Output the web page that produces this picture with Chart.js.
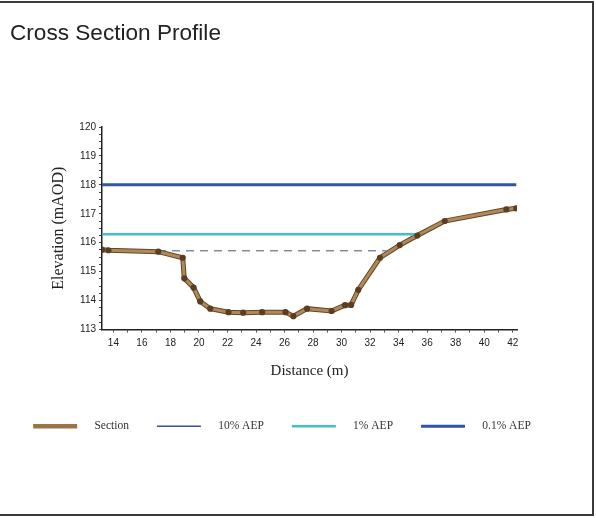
<!DOCTYPE html>
<html>
<head>
<meta charset="utf-8">
<script src="https://cdn.jsdelivr.net/npm/chart.js@4/dist/chart.umd.min.js"></script>
<style>
  html, body { margin: 0; padding: 0; background: #fff; }
  #wrap { position: relative; width: 596px; height: 518px; }
  #frame { position: absolute; left: 0; top: 1px; width: 594px; height: 515px;
           border-top: 2px solid #3a3a3a; border-right: 2px solid #3a3a3a; border-bottom: 2px solid #3a3a3a;
           box-sizing: border-box; pointer-events: none; }
  #title { position: absolute; left: 10px; top: 20px; font: 22.6px "Liberation Sans", Arial, sans-serif; color: #222; }
  canvas { position: absolute; left: 0; top: 0; }
</style>
</head>
<body>
<div id="wrap">
  <canvas id="c" width="596" height="518"></canvas>
  <div id="title">Cross Section Profile</div>
  <div id="frame"></div>
</div>
<script>
// Surveyed cross section: chainage (m) and bed elevation (mAOD)
const distance = [13.2, 13.65, 17.15, 18.86, 18.97, 19.62, 20.09, 20.79, 22.07, 23.1, 24.43, 26.07, 26.62, 27.58, 29.3, 30.24, 30.67, 31.17, 32.69, 34.08, 35.31, 37.23, 41.55, 42.25];
const elevation = [115.76, 115.74, 115.69, 115.48, 114.77, 114.45, 113.97, 113.72, 113.6, 113.58, 113.6, 113.6, 113.46, 113.72, 113.64, 113.84, 113.85, 114.37, 115.48, 115.92, 116.25, 116.75, 117.15, 117.19];

// Flood levels for each annual exceedance probability
const aepNames = ['10% AEP', '1% AEP', '0.1% AEP'];
const aepLevels = [115.72, 116.29, 118.0];
const aepStart = [13.2, 13.2, 13.2];
const aepEnd = [33.15, 35.3, 42.25];

// Axis ticks
const xTicks = [14, 15, 16, 17, 18, 19, 20, 21, 22, 23, 24, 25, 26, 27, 28, 29, 30, 31, 32, 33, 34, 35, 36, 37, 38, 39, 40, 41, 42];
const yTicks = [113, 113.25, 113.5, 113.75, 114, 114.25, 114.5, 114.75, 115, 115.25, 115.5, 115.75, 116, 116.25, 116.5, 116.75, 117, 117.25, 117.5, 117.75, 118, 118.25, 118.5, 118.75, 119, 119.25, 119.5, 119.75, 120];

const sectionPts = distance.map((d, i) => ({ x: d, y: elevation[i] }));
const levelPts = k => [{ x: aepStart[k], y: aepLevels[k] }, { x: aepEnd[k], y: aepLevels[k] }];

const serif = '"Liberation Serif", "DejaVu Serif", serif';
const sans = '"Liberation Sans", Arial, sans-serif';

new Chart(document.getElementById('c'), {
  type: 'line',
  data: {
    datasets: [
      {
        label: 'Section', data: sectionPts,
        borderColor: '#ad8a58', backgroundColor: '#ad8a58', borderWidth: 3,
        pointRadius: 1.6, pointBackgroundColor: '#5b3e22', pointBorderColor: '#5b3e22',
        tension: 0
      },
      {
        label: aepNames[0], data: levelPts(0),
        borderColor: '#46566e', backgroundColor: '#46566e', borderWidth: 1,
        borderDash: [8, 6], pointRadius: 0
      },
      {
        label: aepNames[1], data: levelPts(1),
        borderColor: '#45bdd0', backgroundColor: '#45bdd0', borderWidth: 2.5, pointRadius: 0
      },
      {
        label: aepNames[2], data: levelPts(2),
        borderColor: '#2f55a8', backgroundColor: '#2f55a8', borderWidth: 3, pointRadius: 0
      },
      {
        // dark edge drawn beneath the section line
        label: 'outline', data: sectionPts,
        borderColor: '#654629', borderWidth: 5, pointRadius: 0, tension: 0
      }
    ]
  },
  options: {
    responsive: false,
    animation: false,
    layout: { padding: { left: 0, right: 32, top: 127, bottom: 76 } },
    plugins: {
      title: { display: false },
      legend: {
        position: 'bottom',
        labels: {
          usePointStyle: true, pointStyleWidth: 44, boxHeight: 6,
          padding: 28, color: '#333',
          font: { family: serif, size: 11.5 },
          generateLabels: chart => {
            const items = Chart.defaults.plugins.legend.labels.generateLabels(chart)
              .filter(it => it.text !== 'outline');
            items.forEach(it => {
              it.pointStyle = 'line';
              it.lineDash = [];
              if (it.text === 'Section') { it.lineWidth = 4.5; it.strokeStyle = '#9a7446'; }
              if (it.text === '10% AEP') { it.lineWidth = 1.5; it.strokeStyle = '#3a4fa0'; }
              it.text = '\u2002\u2002' + it.text;
            });
            return items;
          }
        }
      },
      tooltip: { enabled: false }
    },
    scales: {
      x: {
        type: 'linear', min: 13.2, max: 42.3,
        afterBuildTicks: s => { s.ticks = xTicks.map(v => ({ value: v })); },
        ticks: {
          autoSkip: false, maxRotation: 0, color: '#222', padding: 5,
          font: { family: sans, size: 10 },
          callback: v => (v % 2 === 0 ? String(v) : '')
        },
        grid: { drawOnChartArea: false, drawTicks: true, tickLength: 3, color: '#444' },
        border: { color: '#222', width: 1.5 },
        title: { display: true, text: 'Distance (m)', color: '#222', font: { family: serif, size: 15 }, padding: { top: 8, bottom: 12 } }
      },
      y: {
        type: 'linear', min: 113, max: 120,
        afterBuildTicks: s => { s.ticks = yTicks.map(v => ({ value: v })); },
        afterFit: s => { s.width = 102; },
        ticks: {
          autoSkip: false, color: '#222', padding: 3,
          font: { family: sans, size: 10 },
          callback: v => (Number.isInteger(v) ? String(v) : '')
        },
        grid: { drawOnChartArea: false, drawTicks: true, tickLength: 3, color: '#444' },
        border: { color: '#222', width: 1.5 },
        title: { display: true, text: 'Elevation (mAOD)', color: '#222', font: { family: serif, size: 16 }, padding: { top: 49, bottom: 8 } }
      },
      // empty right-hand margin beside the plot
      yRight: {
        type: 'linear', position: 'right', min: 113, max: 120,
        afterFit: s => { s.width = 47; },
        ticks: { display: false },
        grid: { display: false },
        border: { display: false }
      }
    }
  }
});
</script>
</body>
</html>
